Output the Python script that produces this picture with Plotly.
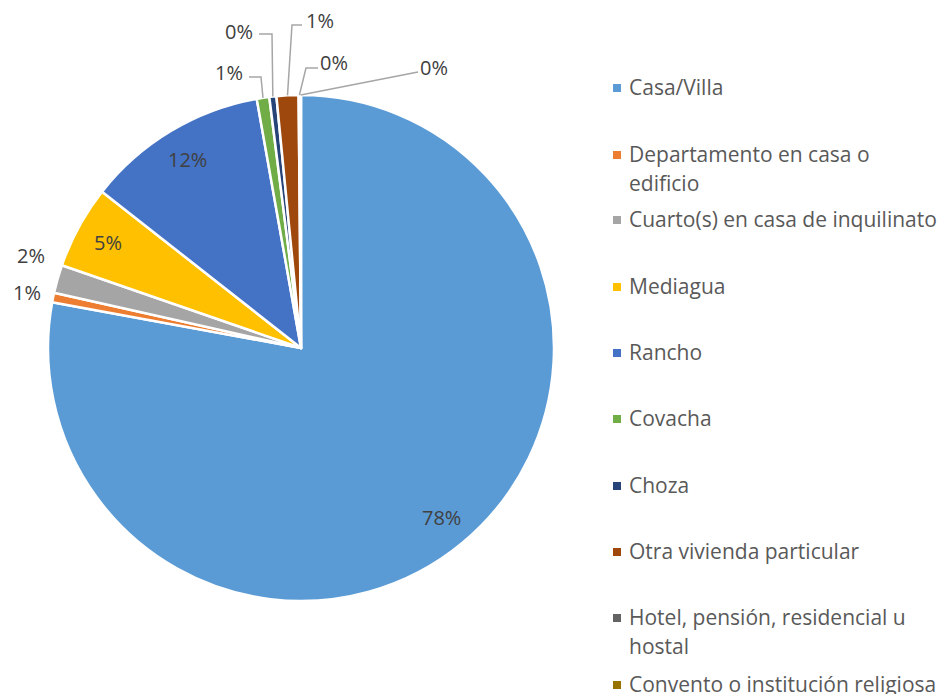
import math
import plotly.graph_objects as go

# ---- data ----
categories = ["Casa/Villa", "Departamento en casa o edificio", "Cuarto(s) en casa de inquilinato",
              "Mediagua", "Rancho", "Covacha", "Choza", "Otra vivienda particular",
              "Hotel, pensión, residencial u hostal", "Convento o institución religiosa"]
values = [77.9, 0.6, 1.8, 5.3, 11.6, 0.8, 0.45, 1.4, 0.1, 0.05]
colors = ["#5B9BD5", "#ED7D31", "#A5A5A5", "#FFC000", "#4472C4", "#70AD47",
          "#264478", "#9E480E", "#636363", "#997300"]
legend_lines = [["Casa/Villa"], ["Departamento en casa o", "edificio"], ["Cuarto(s) en casa de inquilinato"],
                ["Mediagua"], ["Rancho"], ["Covacha"], ["Choza"], ["Otra vivienda particular"],
                ["Hotel, pensión, residencial u", "hostal"], ["Convento o institución religiosa"]]

W, H = 938, 694
CX, CY, R = 301, 348, 253
FONT = "Open Sans"
TXT = "#404040"

def px(x):
    return x / W

def py(y):
    return 1 - y / H

fig = go.Figure(go.Pie(
    labels=categories, values=values, sort=False, direction="clockwise", rotation=0,
    marker=dict(colors=colors, line=dict(color="white", width=2.5)),
    textinfo="none", hoverinfo="label+percent", showlegend=False,
    domain=dict(x=[px(CX - R), px(CX + R)], y=[py(CY + R), py(CY - R)]),
))

total = sum(values)
cum = 0
mids = []
for v in values:
    mids.append((cum + v / 2) / total * 2 * math.pi)
    cum += v

def polar(a, rf):
    return CX + rf * R * math.sin(a), CY - rf * R * math.cos(a)

annotations = []
shapes = []
labels = [f"{round(v / total * 100)}%" for v in values]

# inside labels for the big slices
for i in [0, 3, 4]:
    x, y = polar(mids[i], 0.87)
    annotations.append(dict(x=px(x), y=py(y), xref="paper", yref="paper", text=labels[i],
                            xanchor="center", yanchor="middle",
                            showarrow=False, font=dict(family=FONT, size=20, color=TXT)))

# outside labels (label center, elbow points) for small slices
outside = {1: ((27, 292), None), 2: ((31, 255), None),
           5: ((229, 72), [(249, 77), (261, 77)]),
           6: ((239, 31), [(259, 34), (272, 34)]),
           7: ((320, 21), [(302, 25), (292, 25)]),
           8: ((334, 62), [(318, 68), (306, 68)]),
           9: ((434, 68), [(418, 72)])}
for i, ((lx, ly), pts) in outside.items():
    annotations.append(dict(x=px(lx), y=py(ly), xref="paper", yref="paper", text=labels[i],
                            xanchor="center", yanchor="middle",
                            showarrow=False, font=dict(family=FONT, size=20, color=TXT)))
    if pts:
        ex, ey = polar(mids[i], 1.0)
        path_pts = pts + [(ex, ey)]
        path = "M " + " L ".join(f"{px(a)},{py(b)}" for a, b in path_pts)
        shapes.append(dict(type="path", xref="paper", yref="paper", path=path,
                           line=dict(color="#A6A6A6", width=1.5)))

# legend
leg_y = [87, 154, 219, 286, 352, 418, 485, 551, 617, 684]
for i, lines in enumerate(legend_lines):
    y0 = leg_y[i]
    shapes.append(dict(type="rect", xref="paper", yref="paper",
                       x0=px(613), x1=px(621), y0=py(y0 + 5), y1=py(y0 - 3),
                       fillcolor=colors[i], line=dict(width=0)))
    for k, t in enumerate(lines):
        annotations.append(dict(x=px(627), y=py(y0 + 29 * k), xref="paper", yref="paper", text=t,
                                xanchor="left", yanchor="middle", showarrow=False,
                                font=dict(family=FONT, size=21, color="#595959")))

fig.update_layout(width=W, height=H, margin=dict(l=0, r=0, t=0, b=0),
                  paper_bgcolor="white", plot_bgcolor="white",
                  annotations=annotations, shapes=shapes)
fig.write_html("out.html", config={"displayModeBar": False},
               post_script="document.body.style.margin='0';document.body.style.overflow='hidden';")
